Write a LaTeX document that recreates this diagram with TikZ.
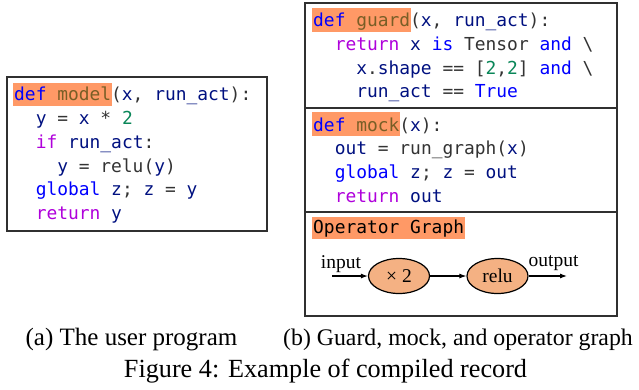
\documentclass[tikz,border=0pt]{standalone}
\usepackage{fontspec}
\setmainfont{Liberation Serif}
\setmonofont{DejaVu Sans Mono}
\usetikzlibrary{shapes.geometric,arrows.meta}
\definecolor{hlcol}{HTML}{FF9966}
\definecolor{opfill}{HTML}{F4B183}
\definecolor{kwblue}{HTML}{0000FF}
\definecolor{kwpurple}{HTML}{AF00DB}
\definecolor{fncol}{HTML}{795E26}
\definecolor{varcol}{HTML}{001080}
\definecolor{numcol}{HTML}{098658}
\definecolor{plaincol}{HTML}{333333}
\definecolor{framecol}{HTML}{303030}
\newcommand{\cKb}[1]{\textcolor{kwblue}{#1}}
\newcommand{\cKp}[1]{\textcolor{kwpurple}{#1}}
\newcommand{\cFn}[1]{\textcolor{fncol}{#1}}
\newcommand{\cVr}[1]{\textcolor{varcol}{#1}}
\newcommand{\cNm}[1]{\textcolor{numcol}{#1}}
\newcommand{\cOp}[1]{\textcolor{plaincol}{#1}}
\newcommand{\codesize}{\fontsize{17.9}{21}\selectfont\ttfamily}
\begin{document}
\begin{tikzpicture}[x=1pt,y=-1pt,
  code/.style={anchor=base west,inner sep=0pt,font=\codesize},
  frame/.style={draw=framecol,line width=1.2pt},
  hlbox/.style={fill=hlcol},
  opnode/.style={ellipse,draw=black,line width=1.2pt,fill=opfill,minimum width=61pt,minimum height=35pt,inner sep=0pt,font=\fontsize{19.5}{22}\selectfont},
  lbl/.style={inner sep=0pt,anchor=base,font=\fontsize{19.5}{22}\selectfont},
  captext/.style={inner sep=0pt,anchor=base},
  flow/.style={-{Latex[length=7pt,width=5pt]},line width=1.1pt}]
\useasboundingbox (0,0) rectangle (639,389);
% highlights
\fill[hlbox] (13,83) rectangle (112,106);
\fill[hlbox] (312,8) rectangle (411,32);
\fill[hlbox] (312,112) rectangle (400,136);
\fill[hlbox] (312,217) rectangle (465,239);
% left box
\draw[frame] (7,77) rectangle (267,231);
\node[code] (m1) at (14,100) {\cKb{def} \cFn{model}\cOp{(}\cVr{x}\cOp{,} \cVr{run\_act}\cOp{):}};
\node[code] (m2) at (35.6,124) {\cVr{y} \cOp{=} \cVr{x} \cOp{*} \cNm{2}};
\node[code] (m3) at (35.6,148) {\cKp{if} \cVr{run\_act}\cOp{:}};
\node[code] (m4) at (57.1,172) {\cVr{y} \cOp{=} \cOp{relu(}\cVr{y}\cOp{)}};
\node[code] (m5) at (35.6,195) {\cKb{global} \cVr{z}\cOp{;} \cVr{z} \cOp{=} \cVr{y}};
\node[code] (m6) at (35.6,219) {\cKp{return} \cVr{y}};
% right box
\draw[frame] (305,3) rectangle (617,316);
\draw[frame] (305,108) -- (617,108);
\draw[frame] (305,212) -- (617,212);
\node[code] (g1) at (313,26) {\cKb{def} \cFn{guard}\cOp{(}\cVr{x}\cOp{,} \cVr{run\_act}\cOp{):}};
\node[code] (g2) at (334.6,50) {\cKp{return} \cVr{x} \cKb{is} \cOp{Tensor} \cKb{and} \cOp{\textbackslash}};
\node[code] (g3) at (356.1,74) {\cVr{x}\cOp{.}\cVr{shape} \cOp{==} \cOp{[}\cNm{2}\cOp{,}\cNm{2}\cOp{]} \cKb{and} \cOp{\textbackslash}};
\node[code] (g4) at (356.1,97.5) {\cVr{run\_act} \cOp{==} \cKb{True}};
\node[code] (k1) at (313,131) {\cKb{def} \cFn{mock}\cOp{(}\cVr{x}\cOp{):}};
\node[code] (k2) at (334.6,154.5) {\cVr{out} \cOp{=} \cOp{run\_graph(}\cVr{x}\cOp{)}};
\node[code] (k3) at (334.6,178) {\cKb{global} \cVr{z}\cOp{;} \cVr{z} \cOp{=} \cVr{out}};
\node[code] (k4) at (334.6,202) {\cKp{return} \cVr{out}};
\node[code] (og) at (313,233) {Operator Graph};
% operator graph
\coordinate (in) at (332,276);
\node[opnode] (times) at (399,276) {× 2};
\node[opnode] (relu) at (497.5,276) {relu};
\coordinate (out) at (567,276);
\draw[flow] (in) -- (times);
\draw[flow] (times) -- (relu);
\draw[flow] (relu) -- (out);
\node[lbl] (inlbl) at (341,268) {input};
\node[lbl] (outlbl) at (553.5,266) {output};
% captions
\node[captext,font=\fontsize{25}{30}\selectfont] (capa) at (131.5,345) {(a) The user program};
\node[captext,font=\fontsize{23.8}{29}\selectfont] (capb) at (458,345) {(b) Guard, mock, and operator graph};
\node[captext,font=\fontsize{26.2}{31}\selectfont] (capf) at (325.5,377) {Figure 4: Example of compiled record};
\end{tikzpicture}
\end{document}
